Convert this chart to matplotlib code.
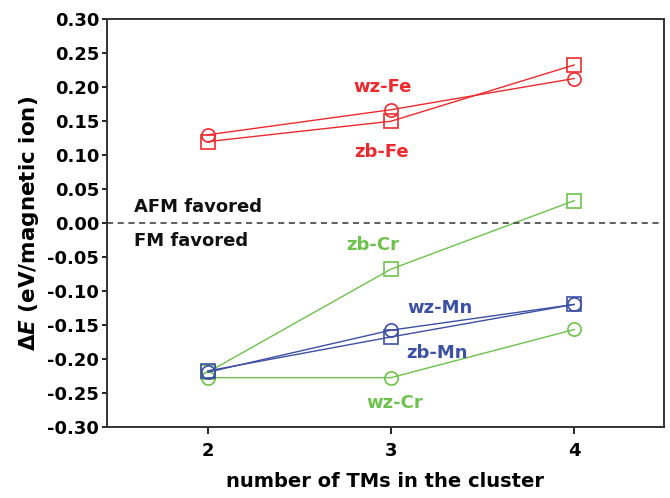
import matplotlib
matplotlib.use("Agg")
import matplotlib.pyplot as plt

plt.rcParams['font.family'] = ['DejaVu Sans']
plt.rcParams['mathtext.fontset'] = 'custom'
plt.rcParams['mathtext.rm'] = 'DejaVu Sans:bold'
plt.rcParams['mathtext.it'] = 'DejaVu Sans:bold:italic'

n_tm = [2, 3, 4]

wz_fe = [0.130, 0.167, 0.213]
zb_fe = [0.120, 0.150, 0.233]
zb_cr = [-0.220, -0.068, 0.033]
wz_cr = [-0.228, -0.228, -0.157]
wz_mn = [-0.220, -0.158, -0.120]
zb_mn = [-0.218, -0.168, -0.120]

red = '#ec2a2e'
green = '#6cc24a'
blue = '#3c50a4'

yticks = [0.30, 0.25, 0.20, 0.15, 0.10, 0.05, 0.00, -0.05, -0.10, -0.15, -0.20, -0.25, -0.30]

fig = plt.figure(figsize=(6.7, 4.98), dpi=100)
ax = fig.add_axes([107/670, 1 - 426.5/498, 557/670, 407/498])

series = [
    (wz_fe, red, 'o'), (zb_fe, red, 's'),
    (zb_cr, green, 's'), (wz_cr, green, 'o'),
    (wz_mn, blue, 'o'), (zb_mn, blue, 's'),
]
for vals, col, mk in series:
    ax.plot(n_tm, vals, color=col, marker=mk, ms=9.5, mfc='none', mec=col, mew=1.2, lw=1.0)

ax.axhline(0, color='#333333', ls=(0, (4, 3)), lw=1.1)

bold = dict(fontweight='bold', fontsize=13)
ax.text(2.955, 0.201, 'wz-Fe', color=red, ha='center', va='center', **bold)
ax.text(2.95, 0.104, 'zb-Fe', color=red, ha='center', va='center', **bold)
ax.text(2.90, -0.032, 'zb-Cr', color=green, ha='center', va='center', **bold)
ax.text(3.02, -0.265, 'wz-Cr', color=green, ha='center', va='center', **bold)
ax.text(3.27, -0.126, 'wz-Mn', color=blue, ha='center', va='center', **bold)
ax.text(3.25, -0.191, 'zb-Mn', color=blue, ha='center', va='center', **bold)
ax.text(1.595, 0.023, 'AFM favored', color='#111111', ha='left', va='center', **bold)
ax.text(1.595, -0.026, 'FM favored', color='#111111', ha='left', va='center', **bold)

ax.set_xlim(1.45, 4.49)
ax.set_ylim(-0.30, 0.30)
ax.set_xticks(n_tm)
ax.set_xticklabels([str(v) for v in n_tm])
ax.set_yticks(yticks)
ax.set_yticklabels(['%.2f' % v for v in yticks])
ax.tick_params(axis='both', direction='out', width=1.2, labelsize=13, top=False, right=False)
ax.tick_params(axis='y', length=3.5, pad=2)
ax.tick_params(axis='x', length=5, pad=6)
for lab in ax.get_xticklabels() + ax.get_yticklabels():
    lab.set_fontweight('bold')
for sp in ax.spines.values():
    sp.set_linewidth(1.4)
    sp.set_color('#333333')

ax.set_xlabel('number of TMs in the cluster', fontsize=14, fontweight='bold', labelpad=9)
ax.set_ylabel(r'$\Delta\mathit{E}$ (eV/magnetic ion)', fontsize=15.5, fontweight='bold', labelpad=5)

fig.savefig('out.png', dpi=100)
